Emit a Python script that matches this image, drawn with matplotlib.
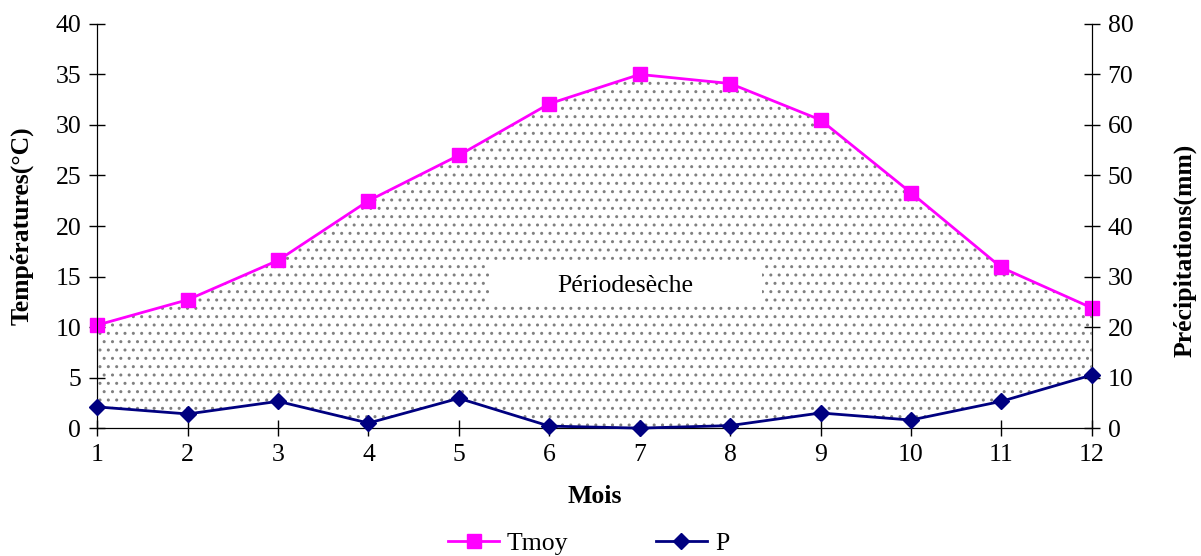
import matplotlib
matplotlib.use("Agg")
import matplotlib.pyplot as plt
from matplotlib.patches import Rectangle
import numpy as np

# === DONNÉES ===
mois = [1, 2, 3, 4, 5, 6, 7, 8, 9, 10, 11, 12]
tmoy = [10.2, 12.7, 16.6, 22.5, 27.0, 32.1, 35.0, 34.1, 30.5, 23.3, 15.9, 11.9]
precip = [4.2, 2.8, 5.3, 1.0, 5.9, 0.4, 0.0, 0.5, 3.0, 1.6, 5.3, 10.5]

plt.rcParams['font.family'] = ['Liberation Serif', 'DejaVu Serif']
plt.rcParams['hatch.color'] = '#808080'
plt.rcParams['hatch.linewidth'] = 1.0
FS = 18.5

fig, ax = plt.subplots(figsize=(12.01, 5.56), dpi=100)
fig.subplots_adjust(left=0.081, right=0.909, top=0.957, bottom=0.23)
ax2 = ax.twinx()

# zone sèche (P = 2T)
p_demi = np.array(precip) / 2.0
ax.fill_between(mois, p_demi, tmoy, facecolor='white', edgecolor='none',
                hatch='..', zorder=1)

# cadre blanc du texte
ax.add_patch(Rectangle((0.395, 0.309), 0.273, 0.102, transform=ax.transAxes,
                       facecolor='white', edgecolor='none', zorder=2))
ax.text(0.531, 0.352, 'Périodesèche', transform=ax.transAxes, fontsize=FS,
        ha='center', va='center', zorder=4)

l1, = ax.plot(mois, tmoy, color='#ff00ff', lw=2, marker='s', ms=10.5,
              label='Tmoy', zorder=3, clip_on=False)
l2, = ax2.plot(mois, precip, color='#000080', lw=2, marker='D', ms=8.5,
               label='P', zorder=3, clip_on=False)

ax.set_xlim(1, 12)
ax.set_ylim(0, 40)
ax2.set_ylim(0, 80)
ax.set_xticks(mois)
ax.set_yticks(np.arange(0, 41, 5))
ax2.set_yticks(np.arange(0, 81, 10))

for a in (ax, ax2):
    a.spines['top'].set_visible(False)
    a.tick_params(direction='inout', length=11, width=1, labelsize=FS, pad=6)

ax.set_xlabel('Mois', fontsize=FS, fontweight='bold', va='center')
ax.xaxis.set_label_coords(0.5, -0.168)
ax.set_ylabel('Températures(°C)', fontsize=FS, fontweight='bold', va='center')
ax.yaxis.set_label_coords(-0.0754, 0.5)
ax2.set_ylabel('Précipitations(mm)', fontsize=FS, fontweight='bold', va='center')
ax2.yaxis.set_label_coords(1.0935, 0.44)

fig.legend(handles=[l1, l2], loc='center', ncol=2, frameon=False,
           fontsize=FS, bbox_to_anchor=(0.49, 0.023), columnspacing=3.4,
           handlelength=2.0, handletextpad=0.3)

plt.savefig('out.png', dpi=100)
